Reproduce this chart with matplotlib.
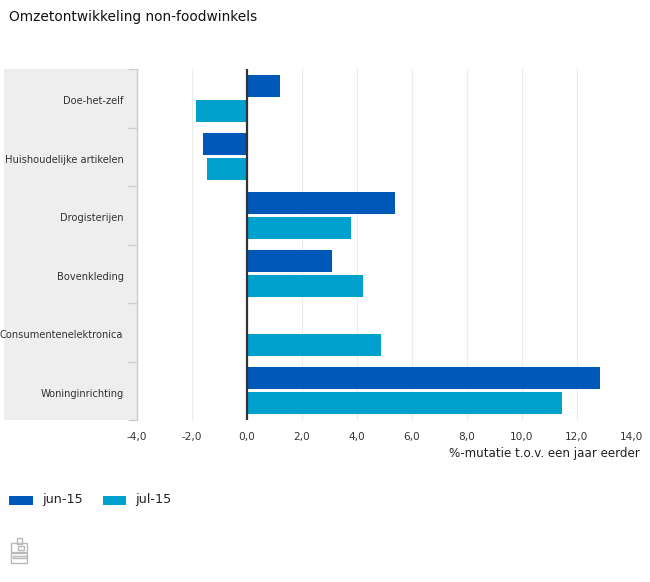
import numpy as np
import matplotlib
matplotlib.use("Agg")
import matplotlib.pyplot as plt
from matplotlib.patches import Rectangle

W, H = 650, 582

categories = ["Doe-het-zelf", "Huishoudelijke artikelen", "Drogisterijen",
              "Bovenkleding", "Consumentenelektronica", "Woninginrichting"]
jun_15 = [1.2, -1.6, 5.4, 3.1, np.nan, 12.85]
jul_15 = [-1.85, -1.45, 3.8, 4.25, 4.9, 11.45]
xticks = [-4, -2, 0, 2, 4, 6, 8, 10, 12, 14]

BLUE = "#0058b8"
CYAN = "#00a1cd"
LOGO = "#b8b8b8"
TEXT = "#333333"


def fig_rect(x0, y0, x1, y1, **kw):
    # rectangle given in picture pixels, y measured from the top
    fig.add_artist(Rectangle((x0 / W, 1 - y1 / H), (x1 - x0) / W, (y1 - y0) / H,
                             transform=fig.transFigure, **kw))


fig = plt.figure(figsize=(W / 100, H / 100), dpi=100)

# grey band behind the category labels
fig_rect(4, 69, 136.5, 420, facecolor="#eeeeee", edgecolor="none", zorder=-1)

ax = fig.add_axes([136.5 / W, 1 - 420 / H, (631.7 - 136.5) / W, (420 - 69) / H])

y = np.arange(len(categories))
ax.barh(y - 0.215, jun_15, height=0.38, color=BLUE, zorder=3)
ax.barh(y + 0.215, jul_15, height=0.38, color=CYAN, zorder=3)

ax.set_xlim(-4, 14)
ax.set_ylim(len(categories) - 0.5, -0.5)
ax.patch.set_alpha(0)

for s in ["top", "right", "bottom"]:
    ax.spines[s].set_visible(False)
ax.spines["left"].set_color("#cccccc")
ax.spines["left"].set_linewidth(1)

ax.set_xticks(xticks)
ax.set_xticklabels([f"{v:.1f}".replace(".", ",") for v in xticks],
                   fontsize=7.6, color=TEXT)
ax.tick_params(axis="x", length=0, pad=8.5)
ax.grid(axis="x", color="#ebebeb", lw=0.8, zorder=0)
ax.axvline(0, color="#333333", lw=1.6, zorder=4)

# ticks sit on the band edges, labels in the band centres
ax.set_yticks(np.arange(len(categories) + 1) - 0.5)
ax.set_yticklabels([])
ax.tick_params(axis="y", length=6.5, color="#cccccc", width=1)
for i, name in enumerate(categories):
    ax.annotate(name, xy=(0, i), xycoords=("axes fraction", "data"),
                xytext=(-13 * 0.72, -2.2), textcoords="offset points",
                ha="right", va="center", fontsize=7.1, color=TEXT)

fig.text(9 / W, 1 - 16.5 / H, "Omzetontwikkeling non-foodwinkels",
         fontsize=9.9, color="#111111", va="center", ha="left")
fig.text(640 / W, 1 - 453 / H, "%-mutatie t.o.v. een jaar eerder",
         fontsize=8.6, color="#222222", va="center", ha="right")

# legend
for x0, col, lab in [(9, BLUE, "jun-15"), (102.5, CYAN, "jul-15")]:
    fig_rect(x0, 495.5, x0 + 23.5, 505, facecolor=col, edgecolor="none")
    fig.text((x0 + 33) / W, 1 - 500 / H, lab, fontsize=9.2, color="#222222",
             va="center", ha="left")

# cbs logo
logo = dict(facecolor="none", edgecolor=LOGO, linewidth=1)
fig_rect(16.5, 538, 21.5, 544, **logo)
fig_rect(10.5, 543, 26.5, 552, **logo)
fig_rect(18, 545.5, 24, 549.5, **logo)
fig_rect(10.5, 553, 26.5, 563, **logo)
fig_rect(13, 555.5, 26.5, 558, **logo)

fig.savefig("out.png", dpi=100)
